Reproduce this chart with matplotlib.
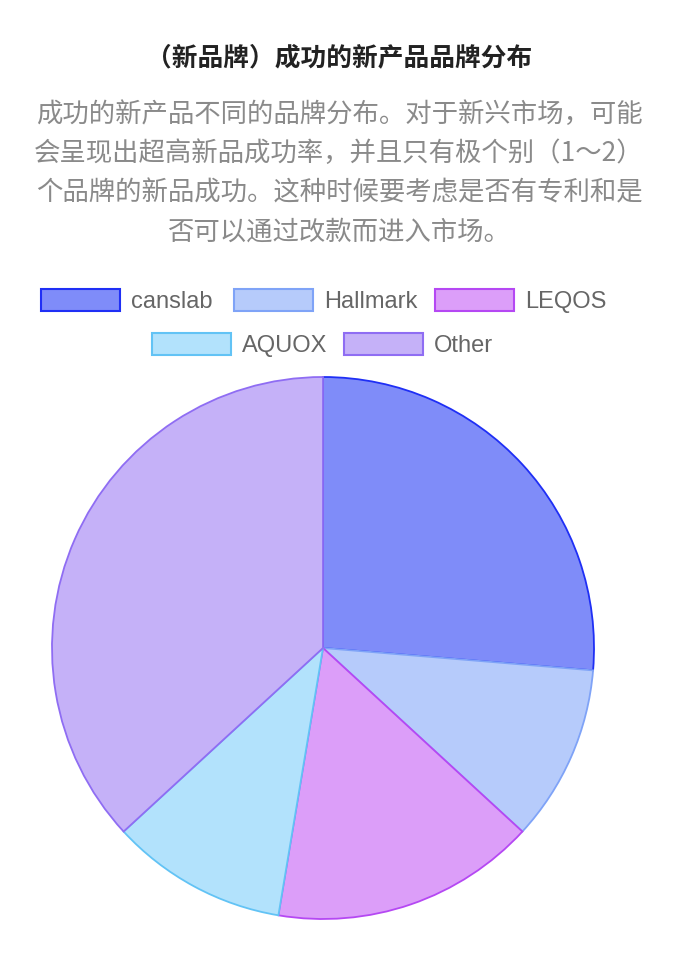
import matplotlib.pyplot as plt
from matplotlib.patches import Rectangle

plt.rcParams['font.family'] = ['Noto Sans CJK SC', 'DejaVu Sans']

brands = ['canslab', 'Hallmark', 'LEQOS', 'AQUOX', 'Other']
counts = [5, 2, 3, 2, 7]
fills = ['#7f8cf9', '#b6cbfb', '#dc9ef9', '#b2e2fc', '#c5b1f8']
edges = ['#1f2ff5', '#7fa3f7', '#b548f3', '#62c3f5', '#8f6df3']

title = '（新品牌）成功的新产品品牌分布'
subtitle = ['成功的新产品不同的品牌分布。对于新兴市场，可能',
            '会呈现出超高新品成功率，并且只有极个别（1～2）',
            '个品牌的新品成功。这种时候要考虑是否有专利和是',
            '否可以通过改款而进入市场。']

W, H = 678, 960
fig = plt.figure(figsize=(W / 100, H / 100), dpi=100)

fig.text(0.5, 1 - 58 / H, title, ha='center', va='center', fontsize=18.5,
         fontweight='bold', color='#222222')
for i, line in enumerate(subtitle):
    fig.text(0.5, 1 - (114 + i * 39.5) / H, line, ha='center', va='center',
             fontsize=19, color='#8a8a8a')

# legend drawn by hand so the second row is centred
legend_pos = [(41, 300), (234, 300), (435, 300), (152, 344), (344, 344)]
for (x, y), name, fc, ec in zip(legend_pos, brands, fills, edges):
    fig.add_artist(Rectangle((x / W, (H - y - 11) / H), 79 / W, 22 / H,
                             facecolor=fc, edgecolor=ec, lw=1.5,
                             transform=fig.transFigure))
    fig.text((x + 90) / W, 1 - (y + 2) / H, name, ha='left', va='center',
             fontsize=17, color='#666666', family=['Liberation Sans', 'DejaVu Sans'])

cx, cy, r = 323, 648, 271
ax = fig.add_axes([(cx - r) / W, (H - cy - r) / H, 2 * r / W, 2 * r / H])
wedges, _ = ax.pie(counts, colors=fills, startangle=90, counterclock=False,
                   radius=1, wedgeprops=dict(linewidth=1.3))
for w, ec in zip(wedges, edges):
    w.set_edgecolor(ec)
ax.set_xlim(-1, 1)
ax.set_ylim(-1, 1)
ax.set_aspect('equal')
ax.axis('off')

fig.savefig('out.png', dpi=100)
